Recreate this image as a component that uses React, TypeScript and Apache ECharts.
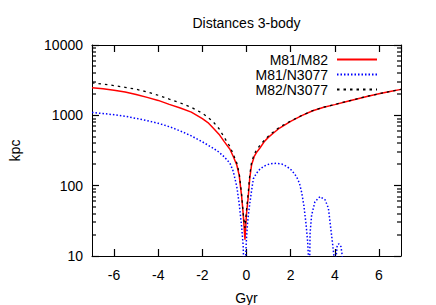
import React, { useEffect, useRef } from "react";
import * as echarts from "echarts";

const titleText = "Distances 3-body";
const xName = "Gyr";
const yName = "kpc";
const yTicks = [10, 100, 1000, 10000];

const names = ["M81/M82", "M81/N3077", "M82/N3077"];

// M81/M82
const redX = [-7,-6.5,-6,-5.5,-5,-4.5,-4,-3.5,-3,-2.5,-2,-1.75,-1.5,-1.25,-1,-0.75,-0.6,-0.44,-0.33,-0.22,-0.15,-0.07,0,0.08,0.15,0.23,0.35,0.45,0.6,0.8,1,1.25,1.5,2,2.5,3,3.5,4,4.5,5,5.5,6,6.5,7];
const redY = [2470,2380,2270,2150,1980,1800,1630,1430,1270,1110,900,790,655,540,420,330,260,197,140,70,40,17,40,70,130,197,260,295,340,420,490,570,660,820,990,1160,1300,1420,1560,1710,1870,2020,2180,2340];

// M81/N3077
const blueX = [-7,-6.5,-6,-5.5,-5,-4.5,-4,-3.5,-3,-2.5,-2,-1.5,-1.25,-1,-0.75,-0.6,-0.44,-0.33,-0.22,-0.15,-0.1,-0.05,0,0.05,0.1,0.15,0.23,0.31,0.45,0.61,0.8,1,1.2,1.37,1.6,1.82,2.05,2.27,2.4,2.5,2.6,2.7,2.77,2.82,2.85,2.88,2.95,3.1,3.33,3.56,3.71,3.81,3.9,3.96,4.0,4.05,4.11,4.19,4.28,4.34,4.38];
const blueY = [1100,1060,1020,970,905,840,770,690,600,510,420,340,300,255,208,160,97,55,26,14,4,8,18,30,42,56,85,125,150,172,190,201,207,208,203,188,165,134,108,80,52,28,16,8,4,21,38,59,70,63,48,26,15,10,4,9,14.3,14.9,13.6,10,4];

// M82/N3077
const blackX = [-7,-6.5,-6,-5.5,-5,-4.5,-4,-3.5,-3,-2.5,-2,-1.75,-1.5,-1.25,-1,-0.75,-0.6,-0.44,-0.33,-0.22,-0.15,-0.07,0,0.08,0.15,0.23,0.35,0.45,0.6,0.8,1,1.25,1.5,2,2.5,3,3.5,4,4.5,5,5.5,6,6.5,7];
const blackY = [2900,2780,2650,2500,2350,2150,1930,1700,1500,1300,1070,940,800,650,480,360,280,210,150,75,40,25,45,80,145,215,280,320,370,440,510,590,680,830,995,1165,1305,1425,1565,1715,1875,2025,2185,2345];

const FONT = "'Liberation Sans', Arial, sans-serif";
const FS = 14;

const GRID = { left: 92, right: 35, top: 45, bottom: 49 };

function pairs(xs: number[], ys: number[]) {
  return xs.map((x, i) => [x, ys[i]]);
}

function mkTick() {
  return { show: true, inside: true, length: 7, lineStyle: { color: "#000000", width: 1.2 } };
}
function mkLine() {
  return { show: true, onZero: false, lineStyle: { color: "#000000", width: 1 } };
}

export default function App() {
  const ref = useRef<HTMLDivElement>(null);
  useEffect(() => {
    if (!ref.current) return;
    const chart = echarts.init(ref.current, null, { renderer: "svg" });
    const labelFmt = (v: number) => String(Math.round(v));
    const xBase = () => ({
      type: "value" as const,
      min: -7,
      max: 7,
      splitNumber: 7,
      splitLine: { show: false },
      axisLine: mkLine(),
      axisTick: mkTick(),
    });
    const yBase = () => ({
      type: "log" as const,
      logBase: 10,
      min: yTicks[0],
      max: yTicks[yTicks.length - 1],
      splitLine: { show: false },
      axisLine: mkLine(),
      axisTick: mkTick(),
    });
    chart.setOption({
      animation: false,
      backgroundColor: "#fff",
      textStyle: { fontFamily: FONT, fontSize: FS, color: "#000" },
      grid: {
        ...GRID,
        containLabel: false,
        outerBoundsMode: "none",
        show: false,
      },
      legend: {
        orient: "vertical",
        right: 53,
        top: 47,
        align: "right",
        itemWidth: 40,
        itemHeight: 10,
        itemGap: 0,
        itemStyle: { opacity: 0 },
        textStyle: { fontFamily: FONT, fontSize: FS, color: "#000", padding: [0, 4, 0, 0], lineHeight: 15 },
        data: names,
      },
      xAxis: [
        {
          ...xBase(),
          position: "bottom",
          name: xName,
          nameLocation: "middle",
          nameGap: 35,
          nameTextStyle: { fontFamily: FONT, fontSize: FS, color: "#000" },
          axisLabel: {
            show: true,
            margin: 12,
            showMinLabel: false,
            showMaxLabel: false,
            fontFamily: FONT,
            fontSize: FS,
            color: "#000",
            formatter: labelFmt,
          },
        },
        {
          ...xBase(),
          position: "top",
          axisLabel: { show: false },
        },
      ],
      yAxis: [
        {
          ...yBase(),
          position: "left",
          name: yName,
          nameLocation: "middle",
          nameGap: 70,
          nameTextStyle: { fontFamily: FONT, fontSize: FS, color: "#000" },
          axisLabel: {
            margin: 9,
            fontFamily: FONT,
            fontSize: FS,
            color: "#000",
            formatter: labelFmt,
          },
        },
        {
          ...yBase(),
          position: "right",
          axisLabel: { show: false },
        },
      ],
      series: [
        {
          name: names[0],
          type: "line",
          data: pairs(redX, redY),
          showSymbol: false,
          symbol: "none",
          clip: true,
          lineStyle: { color: "#ff0000", width: 1.5, type: "solid" },
          itemStyle: { color: "#ff0000" },
        },
        {
          name: names[1],
          type: "line",
          data: pairs(blueX, blueY),
          showSymbol: false,
          symbol: "none",
          clip: true,
          lineStyle: { color: "#0000ff", width: 1.5, type: [1.5, 2] },
          itemStyle: { color: "#0000ff" },
        },
        {
          name: names[2],
          type: "line",
          data: pairs(blackX, blackY),
          showSymbol: false,
          symbol: "none",
          clip: true,
          lineStyle: { color: "#000000", width: 1.3, type: [2.5, 4] },
          itemStyle: { color: "#000000" },
        },
      ],
    });

    // title and minor log ticks (positions from the library's scales)
    const width = chart.getWidth();
    const xl = GRID.left;
    const xr = width - GRID.right;
    const minor: any[] = [];
    for (let d = 0; d < yTicks.length - 1; d++) {
      for (let m = 2; m <= 9; m++) {
        const v = yTicks[d] * m;
        const raw = chart.convertToPixel({ gridIndex: 0 }, [0, v]) as any;
        const py = Math.round(Number(raw && raw[1]));
        if (!isFinite(py)) continue;
        minor.push({
          type: "rect",
          z: 100,
          shape: { x: xl, y: py - 0.6, width: 4, height: 1.2 },
          style: { fill: "#000" },
          silent: true,
        });
        minor.push({
          type: "rect",
          z: 100,
          shape: { x: xr - 4, y: py - 0.6, width: 4, height: 1.2 },
          style: { fill: "#000" },
          silent: true,
        });
      }
    }
    chart.setOption({
      graphic: [
        {
          type: "text",
          x: (xl + xr) / 2,
          y: 23,
          style: {
            text: titleText,
            fontFamily: FONT,
            fontSize: FS,
            fill: "#000",
            align: "center",
            verticalAlign: "middle",
          },
        },
        ...minor,
      ],
    });
    return () => chart.dispose();
  }, []);
  return (
    <div
      ref={ref}
      style={{ position: "fixed", left: 0, top: 0, width: 436, height: 305, background: "#fff" }}
    />
  );
}
